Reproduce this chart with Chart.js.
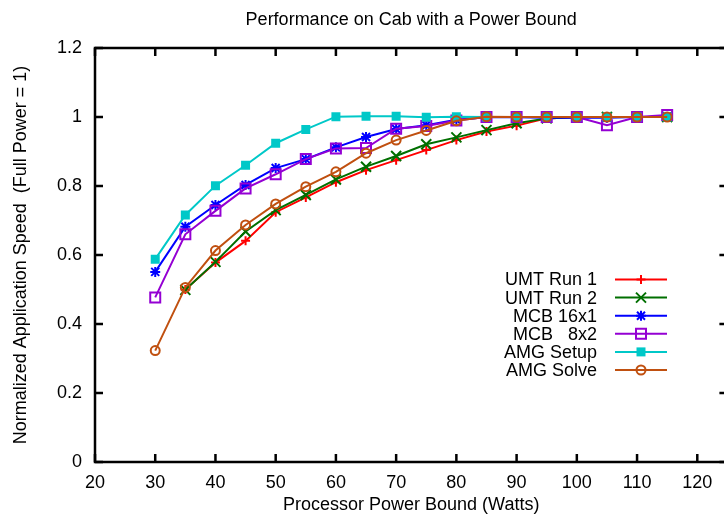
<!DOCTYPE html>
<html>
<head>
<meta charset="utf-8">
<script src="https://cdn.jsdelivr.net/npm/chart.js@4.4.1/dist/chart.umd.min.js"></script>
<style>
  html, body { margin: 0; padding: 0; overflow: hidden; background: #fff; }
  #wrap { width: 730px; height: 516px; }
</style>
</head>
<body>
<div id="wrap"><canvas id="powerChart" width="730" height="516"></canvas></div>
<script>
// ---------- Data ---------- //
const powerBound = [30, 35, 40, 45, 50, 55, 60, 65, 70, 75, 80, 85, 90, 95, 100, 105, 110, 115];

const umtRun1 = [null, 0.5, 0.578, 0.641, 0.724, 0.767, 0.811, 0.846, 0.875, 0.904, 0.933, 0.958, 0.975, 0.996, 1.0, 1.0, 1.0, 1.0];
const umtRun2 = [null, 0.499, 0.58, 0.668, 0.73, 0.774, 0.819, 0.856, 0.887, 0.921, 0.941, 0.962, 0.982, 0.996, 1.0, 1.0, 1.0, 1.0];
const mcb16x1 = [0.551, 0.682, 0.745, 0.803, 0.852, 0.878, 0.912, 0.942, 0.965, 0.976, 0.992, 0.999, 0.999, 0.998, 0.998, 0.998, 1.0, 1.0];
const mcb8x2 = [0.477, 0.66, 0.728, 0.793, 0.834, 0.878, 0.909, 0.91, 0.966, 0.974, 0.99, 1.0, 1.0, 1.0, 1.0, 0.976, 1.0, 1.006];
const amgSetup = [0.588, 0.716, 0.801, 0.86, 0.924, 0.964, 1.001, 1.002, 1.002, 0.999, 1.001, 1.0, 1.0, 1.0, 1.0, 1.0, 1.0, 1.0];
const amgSolve = [0.323, 0.506, 0.613, 0.687, 0.748, 0.798, 0.841, 0.895, 0.933, 0.961, 0.989, 1.001, 1.0, 1.0, 1.0, 1.0, 1.0, 1.0];

const seriesLabels = ["UMT Run 1", "UMT Run 2", "MCB 16x1", "MCB   8x2", "AMG Setup", "AMG Solve"];
const seriesValues = [umtRun1, umtRun2, mcb16x1, mcb8x2, amgSetup, amgSolve];

const xTickStep = 10;
const yTickStep = 0.2;

// ---------- Styles ---------- //
const FONT = "'Liberation Sans', Arial, sans-serif";
const styles = [
  { color: "#ff0000", marker: "plus", size: 4.5, fill: false },
  { color: "#006f00", marker: "x", size: 5, fill: false },
  { color: "#0000ff", marker: "star", size: 5, fill: false },
  { color: "#9400d3", marker: "square", size: 5, fill: false },
  { color: "#00c8c8", marker: "square", size: 4.5, fill: true },
  { color: "#c05010", marker: "circle", size: 4.5, fill: false },
];

function drawMarker(ctx, type, x, y, r, color, fill) {
  ctx.save();
  ctx.strokeStyle = color;
  ctx.fillStyle = color;
  ctx.lineWidth = 2;
  ctx.beginPath();
  if (type === "plus" || type === "star") {
    ctx.moveTo(x - r, y); ctx.lineTo(x + r, y);
    ctx.moveTo(x, y - r); ctx.lineTo(x, y + r);
  }
  if (type === "x" || type === "star") {
    const d = type === "star" ? r * 0.8 : r;
    ctx.moveTo(x - d, y - d); ctx.lineTo(x + d, y + d);
    ctx.moveTo(x - d, y + d); ctx.lineTo(x + d, y - d);
  }
  if (type === "square") {
    ctx.rect(x - r, y - r, 2 * r, 2 * r);
  }
  if (type === "circle") {
    ctx.arc(x, y, r, 0, Math.PI * 2);
  }
  if (fill) ctx.fill();
  else ctx.stroke();
  ctx.restore();
}

// marker drawn for every point, through the line element's own pixel positions
const markerPlugin = {
  id: "markers",
  afterDatasetDraw(chart, args) {
    const st = styles[args.index];
    const ctx = chart.ctx;
    ctx.save();
    ctx.beginPath();
    const a = chart.chartArea;
    ctx.rect(a.left, a.top, a.width, a.height);
    ctx.clip();
    args.meta.data.forEach((pt) => {
      if (pt.skip) return;
      drawMarker(ctx, st.marker, pt.x, pt.y, st.size, st.color, st.fill);
    });
    ctx.restore();
  },
};

// gnuplot style frame: full border with inward ticks on all four sides
const framePlugin = {
  id: "frame",
  afterDraw(chart) {
    const { ctx, chartArea: a, scales } = chart;
    const tick = 8;
    ctx.save();
    ctx.strokeStyle = "#000";
    ctx.lineWidth = 2.5;
    ctx.strokeRect(a.left, a.top, a.width, a.height);
    ctx.beginPath();
    scales.x.ticks.forEach((t) => {
      const px = scales.x.getPixelForValue(t.value);
      ctx.moveTo(px, a.bottom); ctx.lineTo(px, a.bottom - tick);
      ctx.moveTo(px, a.top); ctx.lineTo(px, a.top + tick);
    });
    scales.y.ticks.forEach((t) => {
      const py = scales.y.getPixelForValue(t.value);
      ctx.moveTo(a.left, py); ctx.lineTo(a.left + tick, py);
      ctx.moveTo(a.right, py); ctx.lineTo(a.right - tick, py);
    });
    ctx.stroke();
    ctx.restore();
  },
};

// key in the lower right, text right aligned before the sample line
const keyPlugin = {
  id: "key",
  afterDraw(chart) {
    const ctx = chart.ctx;
    const textRight = 597;
    const lineLeft = 615;
    const lineRight = 667;
    const top = 279.5;
    const rowH = 18.1;
    ctx.save();
    ctx.font = "18px " + FONT;
    ctx.textAlign = "right";
    ctx.textBaseline = "middle";
    seriesLabels.forEach((label, i) => {
      const y = top + i * rowH;
      const st = styles[i];
      ctx.fillStyle = "#000";
      ctx.fillText(label, textRight, y + 1);
      ctx.strokeStyle = st.color;
      ctx.lineWidth = 2;
      ctx.beginPath();
      ctx.moveTo(lineLeft, y);
      ctx.lineTo(lineRight, y);
      ctx.stroke();
      drawMarker(ctx, st.marker, (lineLeft + lineRight) / 2, y, st.size, st.color, st.fill);
    });
    ctx.restore();
  },
};

const $powerChart = document.getElementById("powerChart");

new Chart($powerChart, {
  type: "line",
  data: {
    labels: powerBound,
    datasets: seriesValues.map((values, i) => ({
      label: seriesLabels[i],
      data: values.map((v, k) => ({ x: powerBound[k], y: v })),
      borderColor: styles[i].color,
      borderWidth: 2,
      pointRadius: 0,
      pointHoverRadius: 0,
      fill: false,
      tension: 0,
      order: seriesValues.length - 1 - i,
    })),
  },
  options: {
    responsive: false,
    animation: false,
    events: [],
    layout: { padding: { left: 0, right: 2.6, top: 0, bottom: 0 } },
    plugins: {
      legend: { display: false },
      tooltip: { enabled: false },
      title: {
        display: true,
        fullSize: false,
        text: "Performance on Cab with a Power Bound",
        color: "#000",
        font: { family: FONT, size: 18, weight: "normal" },
        padding: { top: 9, bottom: 17.4 },
      },
    },
    scales: {
      x: {
        type: "linear",
        min: 20,
        max: 125,
        grid: { display: false, drawTicks: false },
        border: { display: false },
        ticks: {
          stepSize: xTickStep,
          includeBounds: false,
          color: "#000",
          padding: 10,
          maxRotation: 0,
          font: { family: FONT, size: 18 },
        },
        title: {
          display: true,
          text: "Processor Power Bound (Watts)",
          color: "#000",
          font: { family: FONT, size: 18 },
          padding: { top: 0, bottom: 0 },
        },
        afterFit(scale) {
          scale.height = 54;
        },
      },
      y: {
        min: 0,
        max: 1.2,
        grid: { display: false, drawTicks: false },
        border: { display: false },
        ticks: {
          stepSize: yTickStep,
          color: "#000",
          padding: 13,
          font: { family: FONT, size: 18 },
          callback: (value) => String(Number(value.toFixed(1))),
        },
        title: {
          display: true,
          text: "Normalized Application Speed  (Full Power = 1)",
          color: "#000",
          font: { family: FONT, size: 18 },
          padding: { top: 10, bottom: 0 },
        },
        afterFit(scale) {
          scale.width = 95;
        },
      },
    },
  },
  plugins: [markerPlugin, framePlugin, keyPlugin],
});
</script>
</body>
</html>
